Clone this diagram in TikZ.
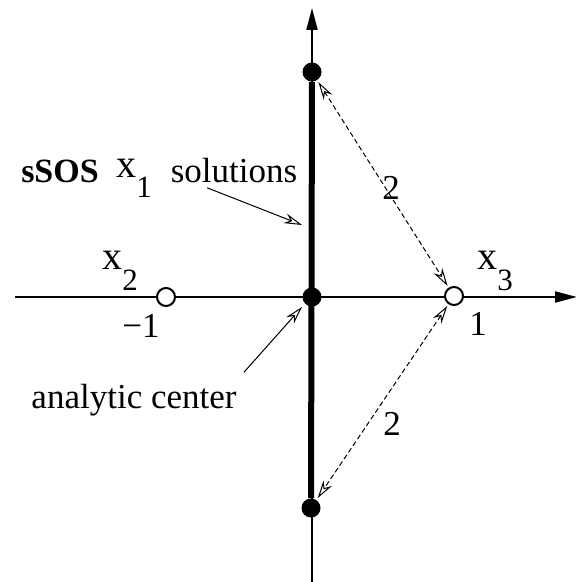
\documentclass[tikz,border=0pt]{standalone}
\usepackage{fontspec}
\setmainfont{Liberation Serif}
\usetikzlibrary{arrows.meta, positioning}
\tikzstyle{soldot}=[circle, fill=black, inner sep=0pt, minimum size=9.5pt]
\tikzstyle{rootdot}=[circle, draw=black, fill=white, line width=1pt,
  inner sep=0pt, minimum size=9pt]
\tikzstyle{lbl}=[inner sep=0pt, anchor=base, font=\fontsize{17.5}{20}\selectfont]
\tikzstyle{axis}=[line width=1pt, -{Triangle[length=11pt,width=5.5pt]}]
\tikzstyle{distarr}=[{Stealth[open,length=9pt,width=5pt]}-{Stealth[open,length=9pt,width=5pt]},
  dash pattern=on 2.5pt off 1.5pt, line width=0.5pt, shorten <=1pt, shorten >=1pt]
\tikzstyle{ptrarr}=[-{Stealth[open,length=9pt,width=5pt]}, line width=0.5pt]
\newcommand{\xvar}[1]{{\fontsize{20}{22}\selectfont x\raisebox{-10pt}{\fontsize{15.5}{16}\selectfont #1}}}

\begin{document}
\begin{tikzpicture}[x=0.5pt, y=-0.5pt]
  \useasboundingbox (0,0) rectangle (576,582);
  % axes
  \coordinate (xl) at (15,297);
  \coordinate (xr) at (577,297);
  \coordinate (yb) at (312,582);
  \coordinate (yt) at (312,8);
  \draw[axis] (xl) -- (xr);
  \draw[axis] (yb) -- (yt);
  % points
  \node[soldot] (top) at (312,72) {};
  \node[soldot] (bot) at (311,508) {};
  \node[soldot] (ctr) at (312,297) {};
  \node[rootdot] (r2) at (166,297) {};
  \node[rootdot] (r3) at (454,296) {};
  \draw[line width=3pt] (top) -- (bot);
  \draw[distarr] (top) -- (r3);
  \draw[distarr] (r3) -- (bot);
  \node[lbl] (d1) at (391,200) {2};
  \node[lbl] (d2) at (392,435) {2};
  % labels
  \node[lbl, font=\fontsize{17}{20}\selectfont\bfseries] (ssos) at (60,183) {sSOS};
  \node[lbl, anchor=base west] (x1) at (116,178) {\xvar{1}};
  \node[lbl] (solutions) at (234,183) {solutions};
  \node[lbl, anchor=base west] (x2) at (102,270) {\xvar{2}};
  \node[lbl] (m1) at (141,337) {−1};
  \node[lbl, anchor=base west] (x3) at (477,270) {\xvar{3}};
  \node[lbl] (p1) at (478,335) {1};
  \node[lbl] (ac) at (134,408) {analytic center};
  % pointers
  \coordinate (solhead) at (302,225);
  \coordinate (achead) at (302,307);
  \draw[ptrarr] ([xshift=-13.5pt,yshift=-2pt]solutions.south) -- (solhead);
  \draw[ptrarr] ([xshift=3.5pt,yshift=5.5pt]ac.north east) -- (achead);
\end{tikzpicture}
\end{document}
